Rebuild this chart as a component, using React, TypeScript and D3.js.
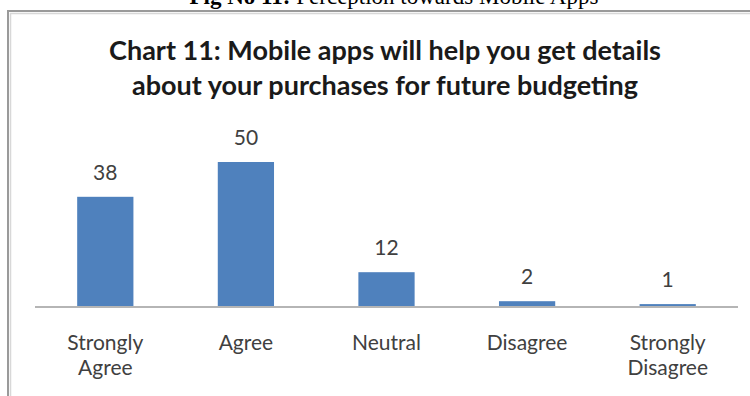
import React from "react";
import * as d3 from "d3";

const categories: string[][] = [
  ["Strongly", "Agree"],
  ["Agree"],
  ["Neutral"],
  ["Disagree"],
  ["Strongly", "Disagree"],
];
const values: number[] = [38, 50, 12, 2, 1];
const titleLines: string[] = [
  "Chart 11: Mobile apps will help you get details",
  "about your purchases for future budgeting",
];
const captionBold = "Fig No 11:";
const captionRest = " Perception towards Mobile Apps";

const W = 750;
const H = 396;
const FONT = "Lato, 'Open Sans', sans-serif";

export default function App() {
  const x = d3
    .scaleBand<number>()
    .domain(values.map((_, i) => i))
    .range([35, 738])
    .paddingInner(0.6)
    .paddingOuter(0.3);
  const y = d3.scaleLinear().domain([0, 60]).range([307, 133]);

  const cx = (i: number) => (x(i) as number) + x.bandwidth() / 2;

  return (
    <svg
      width={W}
      height={H}
      style={{ position: "absolute", left: 0, top: 0, background: "#fff" }}
    >
      {/* figure caption, running off the top of the page */}
      <text
        x={394}
        y={4}
        textAnchor="middle"
        fontFamily="'Liberation Serif', 'Times New Roman', serif"
        fontSize={23}
        fill="#000"
      >
        <tspan fontWeight="bold">{captionBold}</tspan>
        <tspan>{captionRest}</tspan>
      </text>

      {/* chart frame */}
      <rect x={8} y={11} width={780} height={420} fill="#fff" stroke="#9a9a9a" strokeWidth={2} />
      <rect x={10.5} y={13.5} width={780} height={420} fill="none" stroke="#d8d8d8" strokeWidth={1.5} />

      {/* title */}
      <g fontFamily={FONT} fontWeight="bold" fontSize={27} fill="#1a1a1a" textAnchor="middle">
        {titleLines.map((t, i) => (
          <text key={i} x={385} y={60 + i * 35}>
            {t}
          </text>
        ))}
      </g>

      {/* bars */}
      {values.map((v, i) => (
        <rect
          key={i}
          x={x(i)}
          y={y(v)}
          width={x.bandwidth()}
          height={y(0) - y(v)}
          fill="#4F81BD"
        />
      ))}

      {/* category axis line */}
      <line x1={35} x2={738} y1={y(0)} y2={y(0)} stroke="#b5b5b5" strokeWidth={2} />

      {/* value labels */}
      <g fontFamily={FONT} fontSize={21} fill="#404040" textAnchor="middle">
        {values.map((v, i) => (
          <text key={i} x={cx(i)} y={y(v) - 17}>
            {v}
          </text>
        ))}
      </g>

      {/* category labels */}
      <g fontFamily={FONT} fontSize={21} fill="#404040" textAnchor="middle">
        {categories.map((lines, i) => (
          <text key={i} x={cx(i)} y={350}>
            {lines.map((l, j) => (
              <tspan key={j} x={cx(i)} dy={j === 0 ? 0 : 25}>
                {l}
              </tspan>
            ))}
          </text>
        ))}
      </g>
    </svg>
  );
}
